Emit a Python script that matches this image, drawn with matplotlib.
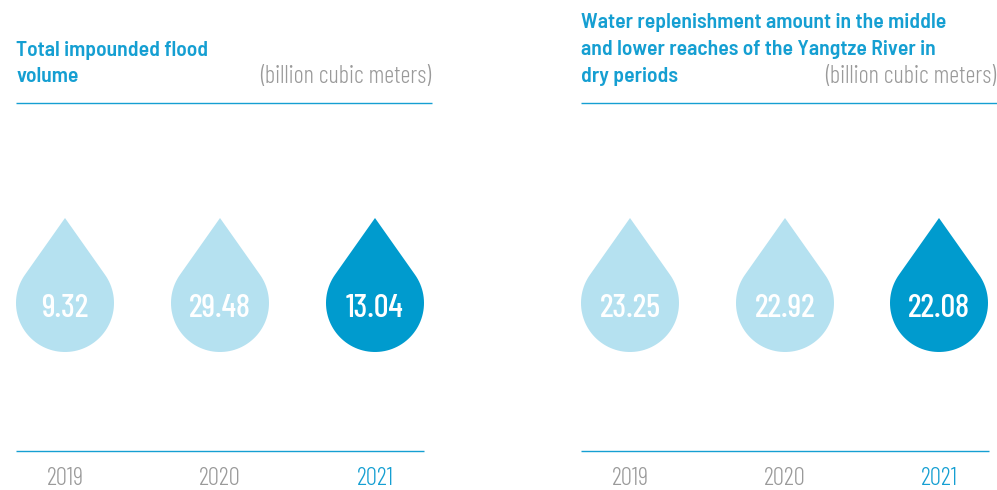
import numpy as np
import matplotlib
matplotlib.use('Agg')
import matplotlib.pyplot as plt
from matplotlib.path import Path
from matplotlib.patches import PathPatch

years = ['2019', '2020', '2021']
flood_values = ['9.32', '29.48', '13.04']
replenish_values = ['23.25', '22.92', '22.08']
flood_title = ['Total impounded flood', 'volume']
replenish_title = ['Water replenishment amount in the middle',
                   'and lower reaches of the Yangtze River in',
                   'dry periods']
unit = '(billion cubic meters)'

LIGHT = '#b5e1f0'
DARK = '#009bce'
BLUE = '#159fd2'
GREY = '#9a9a9a'

FONT = ['Barlow Condensed', 'Roboto']
TITLE_FONT = ['Barlow Semi Condensed', 'Roboto']


def drop_path(cx, tip_y, r, cy):
    """ Gota: dos rectas desde la punta, tangentes a un circulo """
    d = cy - tip_y
    a = np.arcsin(r / d)
    # arco inferior entre los dos puntos de tangencia
    angles = np.linspace(-a, np.pi + a, 80)
    xs = cx + r * np.cos(angles)
    ys = cy + r * np.sin(angles)
    verts = [(cx, tip_y)] + list(zip(xs, ys)) + [(cx, tip_y)]
    codes = [Path.MOVETO] + [Path.LINETO] * len(xs) + [Path.CLOSEPOLY]
    return Path(verts, codes)


def draw_panel(ax, x0, centers, values, title, title_top):
    # encabezado
    for i, line in enumerate(title):
        ax.text(x0, title_top + i * 26.5, line, color=BLUE, fontsize=15.6,
                fontweight=600, family=TITLE_FONT, va='center', ha='left')
    ax.text(x0 + 415.5, 77, unit, color=GREY, fontsize=17.7, fontweight=300,
            family=FONT, va='center', ha='right')
    ax.plot([x0, x0 + 416], [103, 103], color=BLUE, lw=1.0, solid_capstyle='butt')
    ax.plot([x0, x0 + 408], [451, 451], color=BLUE, lw=1.0, solid_capstyle='butt')
    # gotas, la ultima en color fuerte
    for i, (cx, val, year) in enumerate(zip(centers, values, years)):
        last = i == len(years) - 1
        ax.add_patch(PathPatch(drop_path(cx, 218, 49, 303),
                               facecolor=DARK if last else LIGHT, edgecolor='none'))
        ax.text(cx, 308, val, color='white', fontsize=23.5, fontweight=500,
                family=FONT, ha='center', va='center')
        ax.text(cx, 478, year, color=BLUE if last else GREY, fontsize=18,
                fontweight=300, family=FONT, ha='center', va='center')


fig = plt.figure(figsize=(9.97, 4.90), dpi=100)
ax = fig.add_axes([0, 0, 1, 1])
ax.set_xlim(0, 997)
ax.set_ylim(490, 0)
ax.axis('off')

draw_panel(ax, 16, [65, 220, 375], flood_values, flood_title, 50)
draw_panel(ax, 581, [630, 785, 939], replenish_values, replenish_title, 23)

fig.savefig('out.png', dpi=100)
plt.close()
